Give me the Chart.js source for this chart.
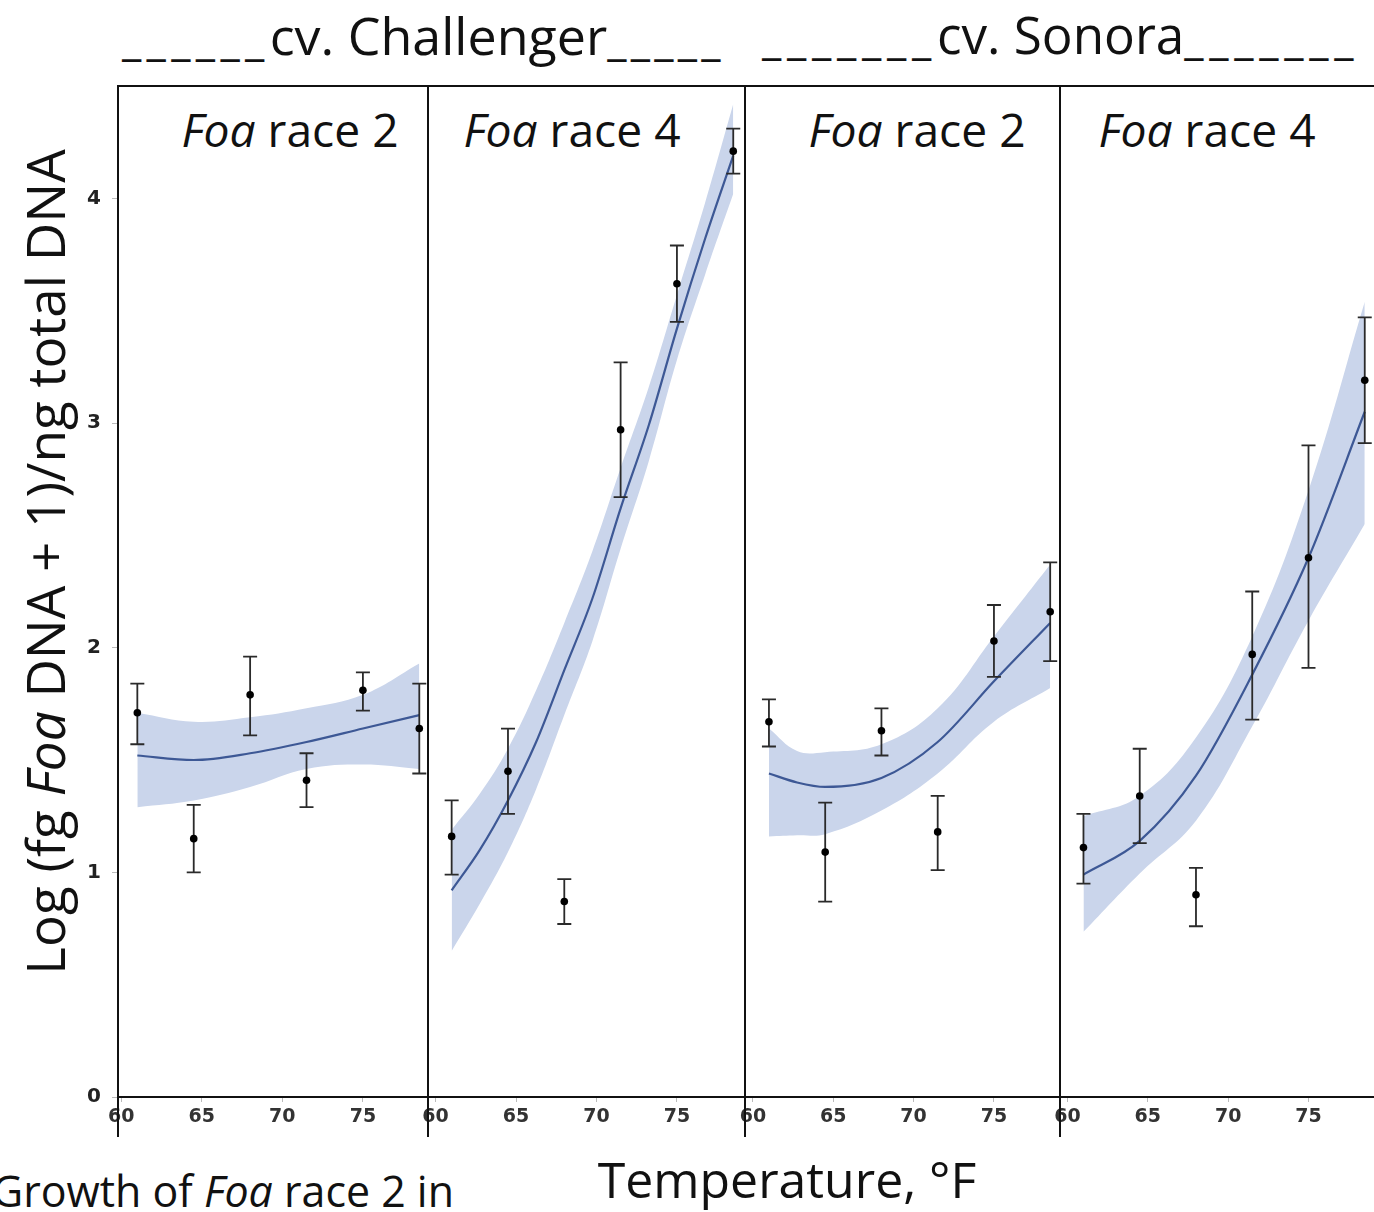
<!DOCTYPE html>
<html>
<head>
<meta charset="utf-8">
<script src="https://cdn.jsdelivr.net/npm/chart.js@4.4.1/dist/chart.umd.min.js"></script>
<style>
  html, body { margin: 0; padding: 0; background: #fff; }
  body { width: 1374px; height: 1212px; position: relative; overflow: hidden; font-family: "Open Sans", Lato, sans-serif; color: #111; }
  canvas { position: absolute; top: 80px; }
  .txt { position: absolute; white-space: pre; line-height: 1; }
  .head { font-size: 44px; top: 9px; }
  .panel { font-size: 40px; top: 107px; transform: translateX(-50%); }
  #ytitle { font-size: 48px; left: 45px; top: 562px; transform: translate(-50%, -50%) rotate(-90deg); }
  #xtitle { font-size: 46px; left: 787px; top: 1155px; transform: translateX(-50%); }
  #caption { font-size: 38px; left: -8px; top: 1170px; }
</style>
</head>
<body>

<div class="txt head" id="h1"><span class="us">______</span><span class="nm">cv. Challenger</span><span class="us">_____</span></div>
<div class="txt head" id="h2"><span class="us">_______</span><span class="nm">cv. Sonora</span><span class="us">_______</span></div>
<div class="txt panel" style="left:290px"><i>Foa</i> race 2</div>
<div class="txt panel" style="left:572px"><i>Foa</i> race 4</div>
<div class="txt panel" style="left:917px"><i>Foa</i> race 2</div>
<div class="txt panel" style="left:1207px"><i>Foa</i> race 4</div>
<div class="txt" id="ytitle">Log (fg <i>Foa</i> DNA + 1)/ng total DNA</div>
<div class="txt" id="xtitle">Temperature, °F</div>
<div class="txt" id="caption">Growth of <i>Foa</i> race 2 in</div>

<canvas id="c1" width="388" height="1065" style="left:60px"></canvas>
<canvas id="c2" width="357" height="1065" style="left:408px"></canvas>
<canvas id="c3" width="355" height="1065" style="left:725px"></canvas>
<canvas id="c4" width="356" height="1065" style="left:1040px"></canvas>

<script>
// temperatures of the sampled points (same in every panel)
var temps = [61, 64.5, 68, 71.5, 75, 78.5];
var xTicks = [60, 65, 70, 75];
var yTicks = [0, 1, 2, 3, 4];

// Challenger, race 2
var chR2Mean = [1.71, 1.15, 1.79, 1.41, 1.81, 1.64];
var chR2Lo   = [1.57, 1.00, 1.61, 1.29, 1.72, 1.44];
var chR2Hi   = [1.84, 1.30, 1.96, 1.53, 1.89, 1.84];
var chR2FitT   = [61, 64.5, 68, 71.5, 75, 78.5];
var chR2Fit    = [1.52, 1.50, 1.53, 1.58, 1.64, 1.70];
var chR2FitUp  = [1.71, 1.67, 1.69, 1.73, 1.79, 1.93];
var chR2FitLow = [1.29, 1.32, 1.38, 1.46, 1.48, 1.46];

// Challenger, race 4
var chR4Mean = [1.16, 1.45, 0.87, 2.97, 3.62, 4.21];
var chR4Lo   = [0.99, 1.26, 0.77, 2.67, 3.45, 4.11];
var chR4Hi   = [1.32, 1.64, 0.97, 3.27, 3.79, 4.31];
var chR4FitT   = [61, 62.75, 64.5, 66.25, 68, 69.75, 71.5, 73.25, 75, 76.75, 78.5];
var chR4Fit    = [0.92, 1.10, 1.32, 1.58, 1.90, 2.22, 2.62, 2.99, 3.42, 3.82, 4.19];
var chR4FitUp  = [1.19, 1.35, 1.55, 1.81, 2.11, 2.43, 2.80, 3.16, 3.57, 3.98, 4.42];
var chR4FitLow = [0.65, 0.86, 1.09, 1.37, 1.70, 2.03, 2.44, 2.83, 3.28, 3.66, 4.02];

// Sonora, race 2
var soR2Mean = [1.67, 1.09, 1.63, 1.18, 2.03, 2.16];
var soR2Lo   = [1.56, 0.87, 1.52, 1.01, 1.87, 1.94];
var soR2Hi   = [1.77, 1.31, 1.73, 1.34, 2.19, 2.38];
var soR2FitT   = [61, 62.75, 64.5, 68, 71.5, 75, 78.5];
var soR2Fit    = [1.44, 1.40, 1.38, 1.42, 1.58, 1.85, 2.11];
var soR2FitUp  = [1.64, 1.54, 1.535, 1.57, 1.73, 2.05, 2.37];
var soR2FitLow = [1.16, 1.165, 1.17, 1.275, 1.44, 1.67, 1.82];

// Sonora, race 4
var soR4Mean = [1.11, 1.34, 0.90, 1.97, 2.40, 3.19];
var soR4Lo   = [0.95, 1.13, 0.76, 1.68, 1.91, 2.91];
var soR4Hi   = [1.26, 1.55, 1.02, 2.25, 2.90, 3.47];
var soR4FitT   = [61, 64.5, 68, 71.5, 75, 78.5];
var soR4Fit    = [0.99, 1.14, 1.43, 1.88, 2.40, 3.05];
var soR4FitUp  = [1.25, 1.34, 1.60, 2.05, 2.70, 3.54];
var soR4FitLow = [0.735, 0.995, 1.23, 1.65, 2.12, 2.55];

// x range of each panel
var xMin = [59.8, 59.53, 59.51, 59.54];
var xMax = [79.04, 79.23, 79.11, 79.2];

var bandColor = '#cad5eb';
var lineColor = '#3d5895';
var none = 'rgba(0,0,0,0)';

function pts(xs, ys) {
	return xs.map(function(x, i) { return {x: x, y: ys[i]}; });
}

// error bars, dots, panel frame
var panelPlugin = {
	id: 'panelPlugin',
	afterDatasetsDraw: function(chart) {
		var ctx = chart.ctx, xs = chart.scales.x, ys = chart.scales.y;
		var ds = chart.data.datasets[3];
		ctx.save();
		ctx.strokeStyle = '#2a2a2a';
		ctx.lineWidth = 1.8;
		ds.data.forEach(function(p, i) {
			var px = xs.getPixelForValue(p.x);
			var top = ys.getPixelForValue(ds.errHi[i]);
			var bot = ys.getPixelForValue(ds.errLo[i]);
			ctx.beginPath();
			ctx.moveTo(px, top); ctx.lineTo(px, bot);
			ctx.moveTo(px - 7, top); ctx.lineTo(px + 7, top);
			ctx.moveTo(px - 7, bot); ctx.lineTo(px + 7, bot);
			ctx.stroke();
		});
		ctx.fillStyle = '#000';
		ds.data.forEach(function(p) {
			ctx.beginPath();
			ctx.arc(xs.getPixelForValue(p.x), ys.getPixelForValue(p.y), 3.8, 0, Math.PI * 2);
			ctx.fill();
		});
		var a = chart.chartArea;
		ctx.strokeStyle = '#111';
		ctx.lineWidth = 2;
		ctx.strokeRect(a.left, a.top, a.right - a.left, a.bottom - a.top);
		ctx.beginPath();
		ctx.moveTo(a.left, a.bottom); ctx.lineTo(a.left, a.bottom + 40);
		ctx.stroke();
		ctx.restore();
	}
};

function makePanel(id, idx, fitT, fit, fitUp, fitLow, mean, lo, hi) {
	var first = idx === 0;
	var ctx = document.getElementById(id);
	return new Chart(ctx, {
		type: 'line',
		data: {
			datasets: [
				{ data: pts(fitT, fitLow), order: 3, borderWidth: 0, borderColor: none, pointRadius: 0, fill: false, tension: 0.4 },
				{ data: pts(fitT, fitUp), order: 2, borderWidth: 0, borderColor: none, pointRadius: 0, fill: '-1', backgroundColor: bandColor, tension: 0.4 },
				{ data: pts(fitT, fit), order: 1, borderColor: lineColor, borderWidth: 2.2, pointRadius: 0, fill: false, cubicInterpolationMode: 'monotone' },
				{ data: pts(temps, mean), order: 0, errLo: lo, errHi: hi, showLine: false, pointRadius: 0, borderColor: none, fill: false }
			]
		},
		options: {
			responsive: false,
			animation: false,
			events: [],
			layout: { padding: { top: 6, left: first ? 0 : 20, right: 20, bottom: 0 } },
			plugins: { legend: { display: false }, tooltip: { enabled: false } },
			scales: {
				x: {
					type: 'linear',
					min: xMin[idx], max: xMax[idx],
					afterBuildTicks: function(s) { s.ticks = xTicks.map(function(v) { return {value: v}; }); },
					afterFit: function(s) { s.height = 48; s.paddingLeft = 0; s.paddingRight = 0; },
					grid: { drawOnChartArea: false, color: '#bbb', tickLength: 5 },
					border: { display: false },
					ticks: { autoSkip: false, maxRotation: 0, padding: 4, color: '#333', font: { family: 'DejaVu Sans', weight: 'bold', size: 19 } }
				},
				y: {
					display: first,
					min: 0, max: 4.5,
					afterBuildTicks: function(s) { s.ticks = yTicks.map(function(v) { return {value: v}; }); },
					afterFit: function(s) { if (first) s.width = 58; s.paddingTop = 0; s.paddingBottom = 0; },
					grid: { drawOnChartArea: false, color: '#bbb', tickLength: 6 },
					border: { display: false },
					ticks: { padding: 11, color: '#222', font: { family: 'DejaVu Sans', weight: 'bold', size: 20 } }
				}
			}
		},
		plugins: [panelPlugin]
	});
}

makePanel('c1', 0, chR2FitT, chR2Fit, chR2FitUp, chR2FitLow, chR2Mean, chR2Lo, chR2Hi);
makePanel('c2', 1, chR4FitT, chR4Fit, chR4FitUp, chR4FitLow, chR4Mean, chR4Lo, chR4Hi);
makePanel('c3', 2, soR2FitT, soR2Fit, soR2FitUp, soR2FitLow, soR2Mean, soR2Lo, soR2Hi);
makePanel('c4', 3, soR4FitT, soR4Fit, soR4FitUp, soR4FitLow, soR4Mean, soR4Lo, soR4Hi);

// size text to the widths in the figure
function fitWidth(el, w) {
	var fs = parseFloat(getComputedStyle(el).fontSize);
	el.style.fontSize = (fs * w / el.offsetWidth) + 'px';
}
function spread(el, w) {
	var n = el.textContent.length;
	el.style.letterSpacing = ((w - el.offsetWidth) / n) + 'px';
}
var heads = [
	{ el: document.getElementById('h1'), left: 122, parts: [148, 338, 117] },
	{ el: document.getElementById('h2'), left: 762, parts: [175, 248, 175] }
];
heads.forEach(function(h) {
	h.el.style.left = h.left + 'px';
	var spans = h.el.children;
	fitWidth(spans[1], h.parts[1]);
	spread(spans[0], h.parts[0]);
	spread(spans[2], h.parts[2]);
});
document.querySelectorAll('.panel').forEach(function(el) { fitWidth(el, 217); });
fitWidth(document.getElementById('ytitle'), 825);
fitWidth(document.getElementById('xtitle'), 379);
fitWidth(document.getElementById('caption'), 462);
</script>
</body>
</html>
